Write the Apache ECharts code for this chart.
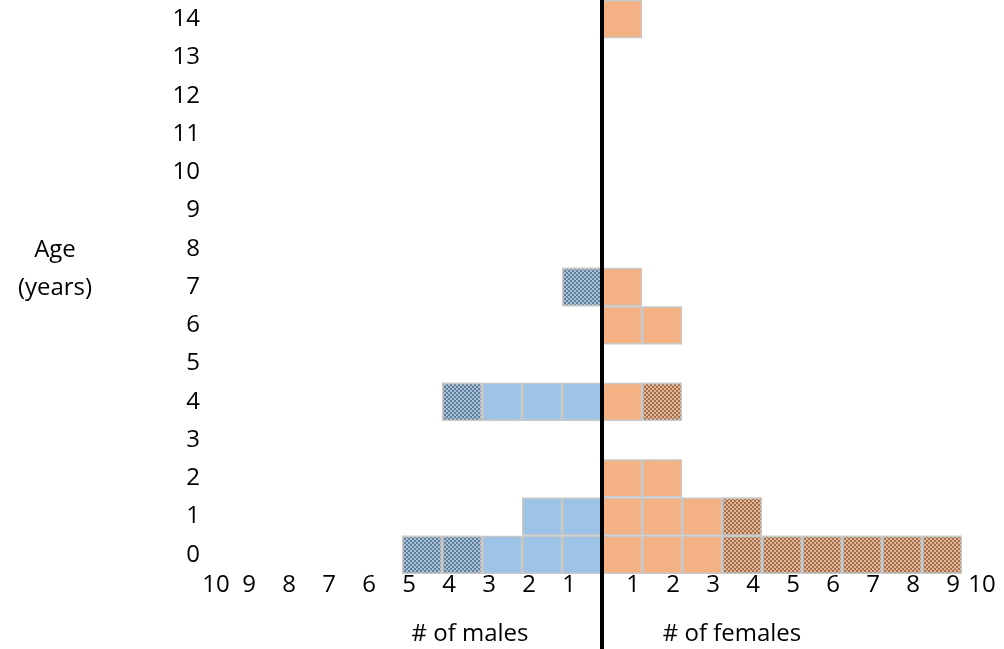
<!DOCTYPE html>
<html>
<head>
<meta charset="utf-8">
<script src="https://cdn.jsdelivr.net/npm/echarts@6/dist/echarts.min.js"></script>
<style>
html,body{margin:0;padding:0;background:#fff;}
#chart{width:1004px;height:649px;}
</style>
</head>
<body>
<div id="chart"></div>
<script>
// Ages (categories, bottom to top)
var ages = ['0','1','2','3','4','5','6','7','8','9','10','11','12','13','14'];
// Males: plain (light blue) cells and hatched cells per age
var malePlain   = [3,2,0,0,3,0,0,0,0,0,0,0,0,0,0];
var maleHatched = [2,0,0,0,1,0,0,1,0,0,0,0,0,0,0];
// Females: plain (orange) cells and hatched cells per age
var femalePlain   = [3,3,2,0,1,0,2,1,0,0,0,0,0,0,1];
var femaleHatched = [6,1,0,0,1,0,0,0,0,0,0,0,0,0,0];
// Tick values of the count axis
var countTicks = [-10,-9,-8,-7,-6,-5,-4,-3,-2,-1,0,1,2,3,4,5,6,7,8,9,10];

var FONT = 'Open Sans';
var FS = 24;
var BLUE = '#9dc3e6', ORANGE = '#f4b183', BORDER = '#c8c8c8';
var decal = {
  symbol: 'rect', symbolSize: 1,
  dashArrayX: [[2,2],[0,2,2,0]], dashArrayY: [2,0],
  color: 'rgba(64,64,64,0.55)'
};

function buildCells(plain, hatched, sign, color, name) {
  var totals = plain.map(function(p,i){ return p + hatched[i]; });
  var max = Math.max.apply(null, totals);
  var out = [];
  for (var c = 1; c <= max; c++) {
    var data = ages.map(function(a, i){
      if (c > totals[i]) return '-';
      var item = { value: sign * 1, itemStyle: { color: color } };
      if (c > plain[i]) item.itemStyle.decal = decal;
      return item;
    });
    out.push({
      name: name, type: 'bar', stack: 'pyramid', data: data,
      xAxisIndex: 0, yAxisIndex: 0,
      barWidth: '100%', barCategoryGap: 0,
      itemStyle: { color: color, borderColor: BORDER, borderWidth: 1.5 },
      emphasis: { disabled: true },
      silent: true, z: 2
    });
  }
  return out;
}

var series = []
  .concat(buildCells(malePlain, maleHatched, -1, BLUE, 'males'))
  .concat(buildCells(femalePlain, femaleHatched, 1, ORANGE, 'females'));

// empty series in the overlay grid so its axes exist
series.push({ type: 'line', xAxisIndex: 1, yAxisIndex: 1, data: [], silent: true });

var txt = { fontFamily: FONT, fontSize: FS, fontWeight: 'normal', color: '#000' };

var chart = echarts.init(document.getElementById('chart'), null, { renderer: 'canvas' });
chart.setOption({
  animation: false,
  backgroundColor: '#ffffff',
  textStyle: { fontFamily: FONT },
  title: [
    { text: 'Age\n(years)', left: 50, top: 226, textAlign: 'center',
      textStyle: Object.assign({ lineHeight: 38 }, txt) },
    { text: '# of males', left: 465, top: 617, textAlign: 'center', textStyle: txt },
    { text: '# of females', left: 727, top: 617, textAlign: 'center', textStyle: txt }
  ],
  grid: [
    { left: 202, width: 800, top: 0, height: 574, containLabel: false },
    { left: 202, width: 800, top: 0, bottom: 0, containLabel: false }
  ],
  xAxis: [
    { type: 'value', gridIndex: 0, min: countTicks[0], max: countTicks[countTicks.length-1], interval: 1,
      axisLine: { show: false }, axisTick: { show: false }, splitLine: { show: false },
      axisLabel: {
        show: true, margin: -1, showMinLabel: true, showMaxLabel: true,
        fontFamily: FONT, fontSize: FS, color: '#000',
        formatter: function(v){
          if (v === 0) return '';
          var a = Math.abs(v);
          var key = (v < 0 ? 'm' : 'f') + (a === 10 ? '2' : '1');
          return '{' + key + '|' + a + '}';
        },
        rich: {
          m1: Object.assign({ padding: [0,0,0,14] }, txt),
          m2: Object.assign({ padding: [0,0,0,28] }, txt),
          f1: Object.assign({ padding: [0,18,0,0] }, txt),
          f2: Object.assign({ padding: [0,40,0,0] }, txt)
        }
      }
    },
    { type: 'value', gridIndex: 1, min: -10, max: 10, show: false }
  ],
  yAxis: [
    { type: 'category', gridIndex: 0, data: ages,
      axisLine: { show: false }, axisTick: { show: false }, splitLine: { show: false },
      axisLabel: { margin: 2, padding: [6,0,0,0], fontFamily: FONT, fontSize: FS, color: '#000' } },
    { type: 'value', gridIndex: 1, min: 0, max: 1, z: 10,
      axisLine: { show: true, onZero: true, lineStyle: { color: '#000', width: 4 } },
      axisTick: { show: false }, axisLabel: { show: false }, splitLine: { show: false } }
  ],
  series: series
});
</script>
</body>
</html>
